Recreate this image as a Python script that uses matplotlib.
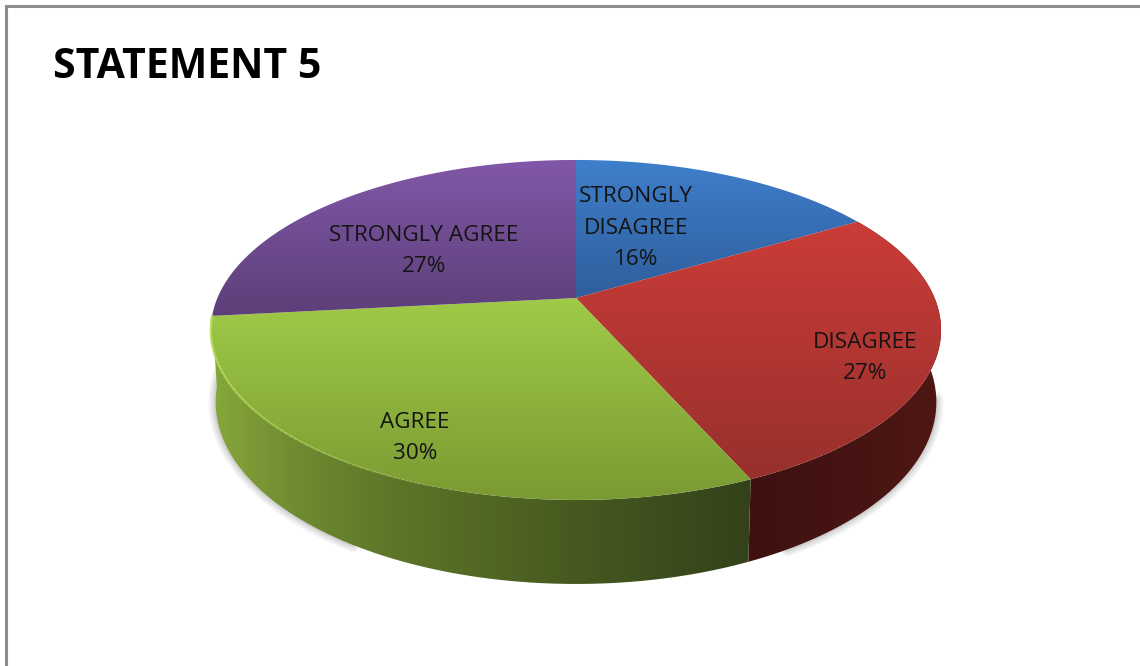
import numpy as np
import matplotlib
matplotlib.use("Agg")
import matplotlib.pyplot as plt
from matplotlib.colors import LinearSegmentedColormap as LSC
from matplotlib.patches import PathPatch
from matplotlib.path import Path

title = "STATEMENT 5"
categories = ["STRONGLY\nDISAGREE", "DISAGREE", "AGREE", "STRONGLY AGREE"]
values = [16.49, 26.9, 29.9, 26.7]
shown = [16, 27, 30, 27]
top_grad = [("#3f7fcb", "#2f5e9c"), ("#cb3c38", "#98302c"), ("#9fcb48", "#7a9a32"), ("#8158a8", "#5c3f78")]
red_wall = ["#3e1110", "#4e1714"]
green_wall = [(0.0, "#86a83b"), (0.16, "#6f8a30"), (0.34, "#5d7528"), (0.72, "#43561f"), (1.0, "#33421a")]
label_pos = [(636, 228), (865, 358), (415, 438), (424, 251)]

W, H = 1140, 666
fig = plt.figure(figsize=(W / 100, H / 100), dpi=100)
ax = fig.add_axes([0, 0, 1, 1])
ax.set_axis_off()


def project(theta, wall=False):
    """Perspective projection of a unit-circle pie onto the image (theta clockwise from 12 o'clock)."""
    u, v = np.sin(theta), np.cos(theta)
    k, A, B, cx, cy = 0.188, 358.6, 164.0, 576.0, 298.0
    w = 1 + k * v
    x = cx + A * u / w
    y = cy - B * v / w
    if wall:
        x = cx + (x - cx) * 0.987
        y = y * 1.07 + 49
    return x, y


def gradient(poly, colors, vertical=True, zorder=2):
    path = Path(np.column_stack(poly))
    xs, ys = poly
    cmap = LSC.from_list("g", colors)
    ramp = np.linspace(0, 1, 256)
    img = ramp[:, None] if vertical else ramp[None, :]
    extent = (xs.min(), xs.max(), ys.max(), ys.min())
    im = ax.imshow(img, cmap=cmap, extent=extent, origin="upper", aspect="auto",
                   vmin=0, vmax=1, zorder=zorder, interpolation="bilinear")
    im.set_clip_path(PathPatch(path, transform=ax.transData))


edges = np.concatenate([[0], np.cumsum(values)]) / sum(values) * 2 * np.pi

# soft shadow beside the base, left and right only
for a, b in [(np.radians(100), np.radians(150)), (np.radians(212), np.radians(268))]:
    t = np.linspace(a, b, 200)
    sx, sy = project(t, wall=True)
    for lw in [10, 7, 4, 2]:
        ax.plot(sx, sy, color="#000000", alpha=0.05, lw=lw, zorder=1, solid_capstyle="round")

# walls
for i, colors in ((1, red_wall), (2, green_wall)):
    t = np.linspace(edges[i], edges[i + 1], 200)
    tx, ty = project(t)
    bx, by = project(t, wall=True)
    poly = (np.concatenate([tx, bx[::-1]]), np.concatenate([ty, by[::-1]]))
    gradient(poly, colors, vertical=False, zorder=2)

# top faces
cx0, cy0 = 576.0, 298.0
for i in range(4):
    t = np.linspace(edges[i], edges[i + 1], 200)
    tx, ty = project(t)
    poly = (np.concatenate([[cx0], tx]), np.concatenate([[cy0], ty]))
    gradient(poly, top_grad[i], vertical=True, zorder=3)

# bright rim on the left front edge of the green slice, fading towards the front
t = np.linspace(edges[2] + 0.75, edges[3], 60)
rx, ry = project(t)
for j in range(len(t) - 1):
    ax.plot(rx[j:j + 2], ry[j:j + 2], color="#b4dc58", lw=1.6,
            alpha=0.05 + 0.8 * j / (len(t) - 2), zorder=4)

# labels
for name, val, (x, y) in zip(categories, shown, label_pos):
    ax.text(x, y, f"{name}\n{val}%", ha="center", va="center", fontsize=16.2,
            family="Open Sans", color="#141414", linespacing=1.66, zorder=5)

ax.text(53, 67, title, ha="left", va="center", fontsize=29.5, fontweight="bold",
        family="Open Sans", color="#000000", zorder=5)

# frame
ax.plot([6, 6, W + 2], [H + 2, 6, 6], color="#8c8c8c", lw=2.2, zorder=6, solid_joinstyle="miter")

ax.set_xlim(0, W)
ax.set_ylim(H, 0)
fig.savefig("out.png", dpi=100, facecolor="white")
